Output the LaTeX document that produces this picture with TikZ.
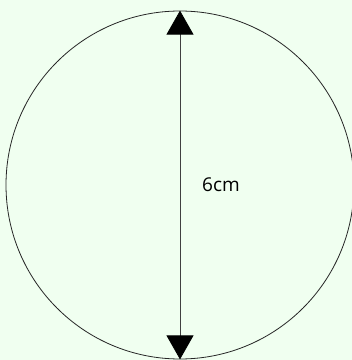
\documentclass[tikz,border=0pt]{standalone}
\usepackage{fontspec}
\setmainfont{Open Sans}
\usetikzlibrary{arrows.meta}
\definecolor{bgc}{HTML}{F0FFF0}
\begin{document}
\begin{tikzpicture}[x=1pt,y=1pt,
  tip/.tip={Triangle[length=24pt,width=27pt,fill=black,color=black]},
  dim/.style={line width=0.8pt, draw=black!75, tip-tip},
  lbl/.style={font=\fontsize{19}{22}\selectfont, inner sep=0pt}]
\fill[bgc] (0,0) rectangle (352,360);
\useasboundingbox (0,0) rectangle (352,360);
\node[draw=black!85, line width=0.8pt, circle, minimum size=348pt, inner sep=0pt] (c) at (180,175) {};
\coordinate (t) at (c.north);
\coordinate (b) at (c.south);
\draw[dim] (t) -- (b);
\node[lbl] (l) at (221,175) {6cm};
\end{tikzpicture}
\end{document}
